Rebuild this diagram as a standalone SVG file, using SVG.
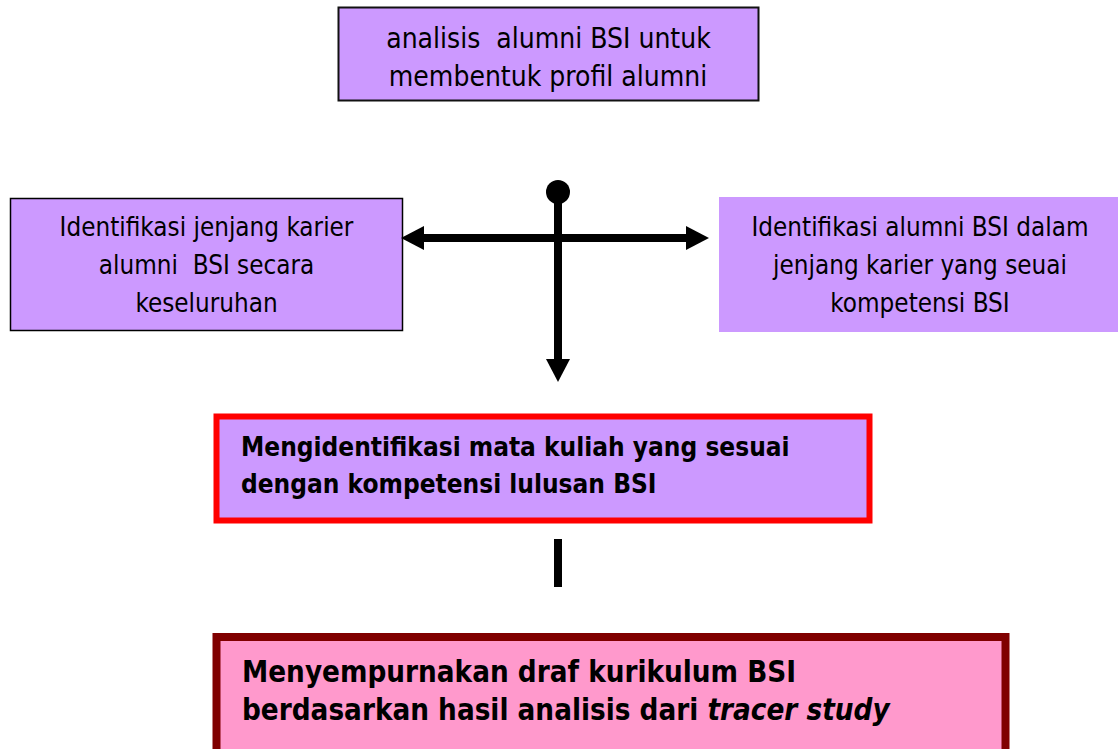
<svg xmlns="http://www.w3.org/2000/svg" width="1118" height="749" viewBox="0 0 1118 749">
<style>
.reg{font-family:"DejaVu Sans Condensed","DejaVu Sans",sans-serif;font-stretch:condensed;font-size:25.8px;fill:#000;text-anchor:middle;white-space:pre}
.big{font-size:28px}
.bold1{font-family:"DejaVu Sans Condensed","DejaVu Sans",sans-serif;font-stretch:condensed;font-weight:bold;font-size:26px;fill:#000;white-space:pre}
.bold2{font-family:"DejaVu Sans Condensed","DejaVu Sans",sans-serif;font-stretch:condensed;font-weight:bold;font-size:29.3px;fill:#000;white-space:pre}
.purple{fill:#CC99FF}
.conn{stroke:#000;stroke-width:8;fill:none}
</style>
<defs>
<marker id="ah" viewBox="0 0 23 24" refX="1" refY="12" markerWidth="23" markerHeight="24" markerUnits="userSpaceOnUse" orient="auto-start-reverse">
<path d="M0,0 L23,12 L0,24 Z" fill="#000"/>
</marker>
</defs>
<rect width="1118" height="749" fill="#fff"/>
<g id="node-top">
<rect class="purple" x="338.5" y="7.5" width="420" height="93" stroke="#111" stroke-width="2"/>
<text class="reg big" x="548.5" y="48">analisis  alumni BSI untuk</text>
<text class="reg big" x="548" y="86">membentuk profil alumni</text>
</g>
<g id="node-left">
<rect class="purple" x="10.5" y="198.5" width="392" height="132" stroke="#000" stroke-width="1.5"/>
<text class="reg" x="206.5" y="236">Identifikasi jenjang karier</text>
<text class="reg" x="206.5" y="274">alumni  BSI secara</text>
<text class="reg" x="206.5" y="312">keseluruhan</text>
</g>
<g id="node-right">
<rect class="purple" x="719" y="197" width="399" height="135"/>
<text class="reg" x="920" y="236">Identifikasi alumni BSI dalam</text>
<text class="reg" x="920" y="274">jenjang karier yang seuai</text>
<text class="reg" x="920" y="312">kompetensi BSI</text>
</g>
<g id="node-mk">
<rect class="purple" x="216.5" y="416.5" width="653" height="104" stroke="#FF0000" stroke-width="6"/>
<text class="bold1" x="241" y="456">Mengidentifikasi mata kuliah yang sesuai</text>
<text class="bold1" x="241" y="493">dengan kompetensi lulusan BSI</text>
</g>
<g id="node-draf">
<rect x="216.5" y="637" width="789" height="130" fill="#FF99CC" stroke="#800000" stroke-width="8"/>
<text class="bold2" x="242" y="682">Menyempurnakan draf kurikulum BSI</text>
<text class="bold2" x="242" y="720">berdasarkan hasil analisis dari <tspan font-style="italic">tracer study</tspan></text>
</g>
<g id="connectors">
<circle cx="558" cy="192" r="12" fill="#000"/>
<line class="conn" x1="423" y1="238" x2="687" y2="238" marker-start="url(#ah)" marker-end="url(#ah)"/>
<line class="conn" x1="558" y1="192" x2="558" y2="360" marker-end="url(#ah)"/>
<line class="conn" x1="558" y1="539" x2="558" y2="587"/>
</g>
</svg>
